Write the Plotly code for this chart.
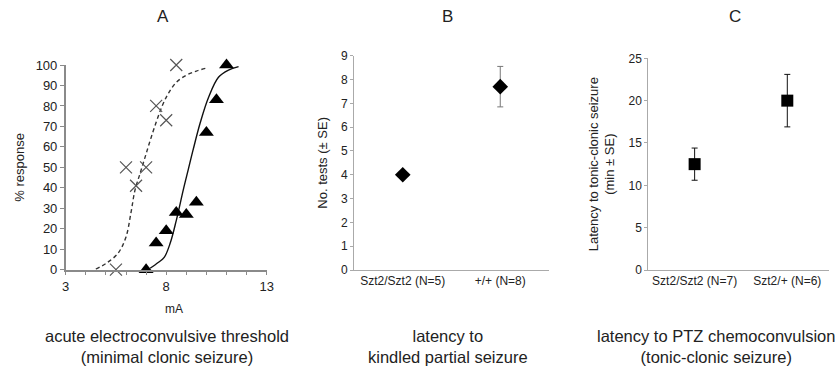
import plotly.graph_objects as go

# ---------------- Panel A data ----------------
wt_x = [5.5, 6.0, 6.5, 7.0, 7.5, 8.0, 8.5]
wt_y = [0, 50, 41, 50, 80, 73, 100]
mut_x = [7.0, 7.5, 8.0, 8.5, 9.0, 9.5, 10.0, 10.5, 11.0]
mut_y = [0, 13, 19, 28, 27, 33, 67, 83, 100]
fit_wt_x = [4.5, 5.0, 5.6, 6.0, 6.25, 6.45, 6.7, 6.95, 7.2, 7.5, 7.8, 8.1, 8.5, 9.0, 9.5, 9.95]
fit_wt_y = [0.3, 3, 8, 16, 28, 39, 47, 55, 63, 72, 80, 86, 91.5, 95, 97, 98.4]
fit_mut_x = [7.2, 7.6, 7.9, 8.2, 8.5, 8.85, 9.1, 9.35, 9.7, 10.1, 10.6, 11.1, 11.6]
fit_mut_y = [0.7, 3.5, 6, 13, 24, 39, 49, 59, 72, 84, 94, 97.5, 99.2]

# ---------------- Panel B data ----------------
b_cats = ["Szt2/Szt2 (N=5)", "+/+ (N=8)"]
b_vals = [4.0, 7.7]
b_err = [0.0, 0.85]

# ---------------- Panel C data ----------------
c_cats = ["Szt2/Szt2 (N=7)", "Szt2/+ (N=6)"]
c_vals = [12.5, 20.0]
c_err = [1.9, 3.1]

W, H = 838, 380
FONT = "Liberation Sans, Arial, sans-serif"
AX = "#8a8a8a"
TXT = "#222222"

def px(x):
    return x / W

def py(y):
    return 1 - y / H

fig = go.Figure()

# Panel A
fig.add_trace(go.Scatter(x=fit_wt_x, y=fit_wt_y, mode="lines",
                         line=dict(color="#333", width=1.4, dash="4px,3px", shape="spline"),
                         xaxis="x", yaxis="y", cliponaxis=False))
fig.add_trace(go.Scatter(x=fit_mut_x, y=fit_mut_y, mode="lines",
                         line=dict(color="#111", width=1.4, shape="spline"),
                         xaxis="x", yaxis="y", cliponaxis=False))
fig.add_trace(go.Scatter(x=wt_x, y=wt_y, mode="markers",
                         marker=dict(symbol="x-thin-open", size=12, color="#555",
                                     line=dict(color="#555", width=1.2)),
                         xaxis="x", yaxis="y", cliponaxis=False))
fig.add_trace(go.Scatter(x=mut_x, y=mut_y, mode="markers",
                         marker=dict(symbol="triangle-up", size=13, color="#000"),
                         xaxis="x", yaxis="y", cliponaxis=False))

# Panel B
fig.add_trace(go.Scatter(x=b_cats, y=b_vals, mode="markers",
                         marker=dict(symbol="diamond", size=12, color="#000"),
                         error_y=dict(type="data", array=b_err, color="#777", thickness=1, width=3),
                         xaxis="x2", yaxis="y2", cliponaxis=False))

# Panel C
fig.add_trace(go.Scatter(x=c_cats, y=c_vals, mode="markers",
                         marker=dict(symbol="square", size=12, color="#000"),
                         error_y=dict(type="data", array=c_err, color="#111", thickness=1, width=3),
                         xaxis="x3", yaxis="y3", cliponaxis=False))

tickfont = dict(family=FONT, size=12, color=TXT)
tickfontA = dict(family=FONT, size=13, color=TXT)

fig.update_layout(
    width=W, height=H,
    margin=dict(l=0, r=0, t=0, b=0, autoexpand=False),
    paper_bgcolor="white", plot_bgcolor="white",
    showlegend=False,
    font=dict(family=FONT, color=TXT),
    xaxis=dict(domain=[px(65.7), px(266.7)], range=[3, 13], anchor="y", automargin=False,
               tickvals=[3, 8, 13], ticks="outside", ticklen=4, tickcolor=AX,
               minor=dict(dtick=1, ticks="outside", ticklen=4, tickcolor=AX),
               showline=True, linecolor=AX, linewidth=1.5, showgrid=False, zeroline=False,
               tickfont=tickfontA),
    yaxis=dict(domain=[py(269.7), py(65)], range=[0, 100], anchor="x", automargin=False,
               dtick=10, ticks="outside", ticklen=4, tickcolor=AX,
               showline=True, linecolor=AX, linewidth=1.5, showgrid=False, zeroline=False,
               tickfont=tickfontA,
               title=dict(text="% response", font=dict(family=FONT, size=13, color=TXT), standoff=8)),
    xaxis2=dict(domain=[px(354), px(549)], range=[-0.5, 1.5], anchor="y2", type="category",
                automargin=False,
                ticks="", showline=True, linecolor="#aaa", linewidth=1, showgrid=False, zeroline=False,
                tickfont=tickfont),
    yaxis2=dict(domain=[py(270), py(55.7)], range=[0, 9], anchor="x2", automargin=False,
                dtick=1, ticks="outside", ticklen=3, tickcolor="#aaa",
                showline=True, linecolor="#aaa", linewidth=1, showgrid=False, zeroline=False,
                tickfont=tickfont,
                title=dict(text="No. tests (± SE)", font=dict(family=FONT, size=13, color=TXT), standoff=10)),
    xaxis3=dict(domain=[px(648.3), px(829)], range=[-0.5, 1.45], anchor="y3", type="category",
                automargin=False,
                ticks="", showline=True, linecolor="#aaa", linewidth=1, showgrid=False, zeroline=False,
                tickfont=tickfont),
    yaxis3=dict(domain=[py(270), py(58.3)], range=[0, 25], anchor="x3", automargin=False,
                dtick=5, ticks="outside", ticklen=3, tickcolor="#aaa",
                showline=True, linecolor="#aaa", linewidth=1, showgrid=False, zeroline=False,
                tickfont=tickfont,
                title=dict(text="Latency to tonic-clonic seizure<br>(min ± SE)",
                           font=dict(family=FONT, size=13, color=TXT), standoff=10)),
)

annots = []
for letter, xc in [("A", 163), ("B", 447), ("C", 735)]:
    annots.append(dict(text=letter, x=px(xc), y=py(16), xref="paper", yref="paper",
                       showarrow=False, xanchor="center", yanchor="middle",
                       font=dict(family=FONT, size=17, color=TXT)))
annots.append(dict(text="mA", x=px(174), y=py(309), xref="paper", yref="paper",
                   showarrow=False, xanchor="center", yanchor="middle",
                   font=dict(family=FONT, size=12, color=TXT)))
for txt, xc in [("acute electroconvulsive threshold<br>(minimal clonic seizure)", 167),
                ("latency to<br>kindled partial seizure", 448),
                ("latency to PTZ chemoconvulsion<br>(tonic-clonic seizure)", 716)]:
    annots.append(dict(text=txt, x=px(xc), y=py(346), xref="paper", yref="paper",
                       showarrow=False, xanchor="center", yanchor="middle",
                       font=dict(family=FONT, size=16.5, color=TXT)))
fig.update_layout(annotations=annots)

fig.write_html("out.html", config={"displayModeBar": False},
               post_script="document.body.style.margin='0';document.body.style.overflow='hidden';")
